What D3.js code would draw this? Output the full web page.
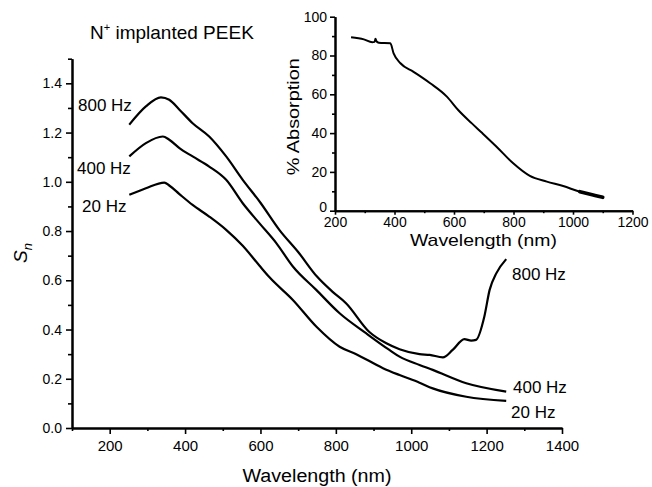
<!DOCTYPE html>
<html>
<head>
<meta charset="utf-8">
<script src="https://d3js.org/d3.v7.min.js"></script>
<style>
  body { margin: 0; background: #fff; }
  text { font-family: "Liberation Sans", Arial, Helvetica, sans-serif; fill: #000; }
</style>
</head>
<body>
<div id="chart"></div>
<script>
// data: [wavelength nm, value]
var s20 = [[252,0.947],[296,0.974],[345,0.997],[358,0.985],[385,0.950],[420,0.906],[464,0.859],
    [509,0.805],[553,0.740],[597,0.660],[624,0.612],[686,0.520],[748,0.412],[810,0.330],[854,0.300],
    [925,0.243],[969,0.215],[1022,0.184],[1057,0.161],[1146,0.127],[1252,0.110]]

var s400 = [[252,1.103],[296,1.157],[341,1.184],[358,1.171],[385,1.137],[420,1.103],[464,1.062],
    [509,1.008],[553,0.913],[597,0.832],[642,0.751],[686,0.656],[748,0.561],[810,0.466],[880,0.385],
    [942,0.317],[969,0.290],[1022,0.256],[1057,0.236],[1146,0.182],[1252,0.148]]

var s800 = [[252,1.232],[296,1.306],[336,1.343],[358,1.333],[385,1.293],[420,1.238],[464,1.184],
    [509,1.103],[553,1.008],[600,0.915],[650,0.805],[700,0.715],[750,0.615],[790,0.555],[827,0.507],
    [889,0.390],[934,0.344],[969,0.320],[1022,0.300],[1049,0.297],[1084,0.287],[1110,0.317],
    [1141,0.361],[1159,0.355],[1172,0.358],[1194,0.453],[1208,0.561],[1226,0.629],[1252,0.686]]

var absorption = [[254,89.4],[297,88.3],[325,86.8],[333,87.0],[336,88.6],[340,87.2],[347,86.6],
    [386,86.3],[397,81.1],[420,76.0],[464,71.6],[520,65.7],[576,58.8],[614,51.9],[660,45.0],
    [695,40.0],[743,33.0],[799,24.4],[855,17.9],[912,15.0],[967,12.7],[1023,9.8],[1068,8.1],[1100,6.9]]

var xMajor = [200, 400, 600, 800, 1000, 1200, 1400]
    , xMinor = [100, 300, 500, 700, 900, 1100, 1300]
    , yMajor = [0, 0.2, 0.4, 0.6, 0.8, 1.0, 1.2, 1.4]
    , yMinor = [0.1, 0.3, 0.5, 0.7, 0.9, 1.1, 1.3, 1.5]
    , inXMajor = [200, 400, 600, 800, 1000, 1200]
    , inXMinor = [300, 500, 700, 900, 1100]
    , inYMajor = [0, 20, 40, 60, 80, 100]
    , inYMinor = [10, 30, 50, 70, 90]

var curveLabels = [
    {text: '800 Hz', x: 78, y: 111, anchor: 'start'},
    {text: '400 Hz', x: 77, y: 174, anchor: 'start'},
    {text: '20 Hz', x: 82, y: 212, anchor: 'start'},
    {text: '800 Hz', x: 512, y: 280, anchor: 'start'},
    {text: '400 Hz', x: 513, y: 393, anchor: 'start'},
    {text: '20 Hz', x: 511, y: 418, anchor: 'start'}
]

var width = 652, height = 487

var svg = d3.select('#chart').append('svg')
    .attr('width', width)
    .attr('height', height)

svg.append('rect').attr('width', width).attr('height', height).attr('fill', '#fff')

// main plot scales
var x = d3.scaleLinear().domain([100, 1400]).range([72, 562])
var y = d3.scaleLinear().domain([0, 1.5]).range([428, 58.7])

function styleAxis(g, fs) {
    g.select('.domain').attr('stroke', '#000').attr('stroke-width', 2)
    g.selectAll('.tick line').attr('stroke', '#000').attr('stroke-width', 1.6)
    g.selectAll('.tick text').attr('font-size', fs).attr('fill', '#000')
        .attr('font-family', '"Liberation Sans", Arial, sans-serif')
}

// minor ticks first, major on top
svg.append('g').attr('transform', 'translate(0,428)')
    .call(d3.axisBottom(x).tickValues(xMinor).tickSize(3).tickSizeOuter(0).tickFormat(''))
    .call(styleAxis, 15)
svg.append('g').attr('transform', 'translate(0,428)')
    .call(d3.axisBottom(x).tickValues(xMajor).tickSize(6).tickSizeOuter(0).tickPadding(6)
        .tickFormat(d3.format('d')))
    .call(styleAxis, 15)

svg.append('g').attr('transform', 'translate(72,0)')
    .call(d3.axisLeft(y).tickValues(yMinor).tickSize(4).tickSizeOuter(0).tickFormat(''))
    .call(styleAxis, 14)
svg.append('g').attr('transform', 'translate(72,0)')
    .call(d3.axisLeft(y).tickValues(yMajor).tickSize(6).tickSizeOuter(0).tickPadding(4)
        .tickFormat(d3.format('.1f')))
    .call(styleAxis, 14)

var line = d3.line()
    .x(function (d) { return x(d[0]) })
    .y(function (d) { return y(d[1]) })
    .curve(d3.curveMonotoneX)

;[s20, s400, s800].forEach(function (s) {
    svg.append('path').datum(s)
        .attr('d', line)
        .attr('fill', 'none')
        .attr('stroke', '#000')
        .attr('stroke-width', 2.2)
        .attr('stroke-linejoin', 'round')
})

svg.selectAll('.clabel').data(curveLabels).enter().append('text')
    .attr('class', 'clabel')
    .attr('x', function (d) { return d.x })
    .attr('y', function (d) { return d.y })
    .attr('text-anchor', function (d) { return d.anchor })
    .attr('font-size', 17)
    .text(function (d) { return d.text })

// title
var title = svg.append('text').attr('x', 90).attr('y', 39).attr('font-size', 19)
title.append('tspan').text('N')
title.append('tspan').attr('font-size', 11).attr('dy', -8).text('+')
title.append('tspan').attr('dy', 8).text(' implanted PEEK')

// axis titles
svg.append('text')
    .attr('x', 317).attr('y', 482)
    .attr('text-anchor', 'middle')
    .attr('font-size', 18)
    .attr('textLength', 149).attr('lengthAdjust', 'spacingAndGlyphs')
    .text('Wavelength (nm)')

var sn = svg.append('text')
    .attr('transform', 'translate(27,263) rotate(-90)')
    .attr('font-size', 19)
    .attr('font-style', 'italic')
sn.append('tspan').text('S')
sn.append('tspan').attr('font-size', 13).attr('dy', 5).text('n')

// inset
var ix = d3.scaleLinear().domain([200, 1200]).range([335, 632.5])
var iy = d3.scaleLinear().domain([0, 100]).range([210.7, 16.7])

svg.append('g').attr('transform', 'translate(0,210.7)')
    .call(d3.axisBottom(ix).tickValues(inXMinor).tickSize(2.5).tickSizeOuter(0).tickFormat(''))
    .call(styleAxis, 14)
svg.append('g').attr('transform', 'translate(0,210.7)')
    .call(d3.axisBottom(ix).tickValues(inXMajor).tickSize(4).tickSizeOuter(0).tickPadding(2)
        .tickFormat(d3.format('d')))
    .call(styleAxis, 14)
svg.append('g').attr('transform', 'translate(335,0)')
    .call(d3.axisLeft(iy).tickValues(inYMinor).tickSize(3).tickSizeOuter(0).tickFormat(''))
    .call(styleAxis, 14)
var inYAxis = svg.append('g').attr('transform', 'translate(335,0)')
    .call(d3.axisLeft(iy).tickValues(inYMajor).tickSize(5).tickSizeOuter(0).tickPadding(3))
    .call(styleAxis, 14)
// the zero label sits a little above the axis line so it clears "200"
inYAxis.selectAll('.tick text').filter(function (d) { return d === 0 }).attr('dy', '0.05em')

var iline = d3.line()
    .x(function (d) { return ix(d[0]) })
    .y(function (d) { return iy(d[1]) })
    .curve(d3.curveMonotoneX)

svg.append('path').datum(absorption)
    .attr('d', iline)
    .attr('fill', 'none')
    .attr('stroke', '#000')
    .attr('stroke-width', 2)
    .attr('stroke-linejoin', 'round')

// the noisy tail of the spectrum is drawn thicker
svg.append('path').datum(absorption.filter(function (d) { return d[0] >= 1000 }))
    .attr('d', iline)
    .attr('fill', 'none')
    .attr('stroke', '#000')
    .attr('stroke-width', 3.6)
    .attr('stroke-linecap', 'round')

svg.append('text')
    .attr('x', 483.5).attr('y', 246)
    .attr('text-anchor', 'middle')
    .attr('font-size', 17)
    .attr('textLength', 147).attr('lengthAdjust', 'spacingAndGlyphs')
    .text('Wavelength (nm)')

svg.append('text')
    .attr('transform', 'translate(299,116.7) rotate(-90)')
    .attr('text-anchor', 'middle')
    .attr('font-size', 17)
    .attr('textLength', 117).attr('lengthAdjust', 'spacingAndGlyphs')
    .text('% Absorption')
</script>
</body>
</html>
